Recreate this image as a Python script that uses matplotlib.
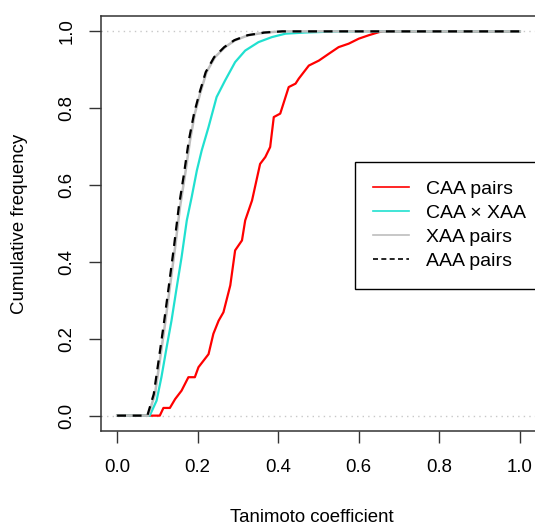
import numpy as np
import matplotlib
matplotlib.use("Agg")
import matplotlib.pyplot as plt
from matplotlib.lines import Line2D

plt.rcParams['font.family'] = ['Liberation Sans', 'DejaVu Sans']

# Curvas de frecuencia acumulada (coeficiente de Tanimoto)
caa_x = [0.0, 0.08, 0.106, 0.115, 0.131, 0.144, 0.160, 0.177, 0.193, 0.202, 0.227, 0.239,
         0.252, 0.264, 0.281, 0.293, 0.310, 0.318, 0.335, 0.355, 0.368, 0.380, 0.389,
         0.405, 0.426, 0.443, 0.451, 0.476, 0.501, 0.526, 0.550, 0.575, 0.600, 0.625,
         0.650, 0.66, 1.0]
caa_y = [0.0, 0.0, 0.0, 0.02, 0.02, 0.043, 0.065, 0.10, 0.10, 0.126, 0.16, 0.213,
         0.247, 0.269, 0.339, 0.43, 0.456, 0.508, 0.56, 0.655, 0.673, 0.699, 0.777,
         0.786, 0.855, 0.864, 0.877, 0.911, 0.924, 0.942, 0.959, 0.968, 0.981, 0.990,
         0.998, 1.0, 1.0]

cxa_x = [0.0, 0.081, 0.098, 0.110, 0.123, 0.135, 0.148, 0.160, 0.173, 0.185, 0.198,
         0.210, 0.227, 0.247, 0.268, 0.293, 0.318, 0.351, 0.384, 0.418, 0.467, 0.55, 1.0]
cxa_y = [0.0, 0.0, 0.039, 0.10, 0.178, 0.247, 0.334, 0.412, 0.508, 0.568, 0.638,
         0.690, 0.751, 0.829, 0.872, 0.920, 0.950, 0.972, 0.985, 0.994, 0.997, 1.0, 1.0]

xaa_x = [0.0, 0.077, 0.094, 0.106, 0.119, 0.131, 0.144, 0.156, 0.169, 0.181, 0.193,
         0.206, 0.222, 0.243, 0.268, 0.293, 0.326, 0.368, 0.41, 1.0]
xaa_y = [0.0, 0.0, 0.056, 0.143, 0.239, 0.334, 0.438, 0.542, 0.629, 0.716, 0.786,
         0.838, 0.894, 0.933, 0.959, 0.977, 0.990, 0.997, 1.0, 1.0]

aaa_x = [0.0, 0.075, 0.091, 0.103, 0.116, 0.128, 0.141, 0.153, 0.166, 0.178, 0.191,
         0.204, 0.220, 0.241, 0.266, 0.291, 0.324, 0.366, 0.41, 1.0]
aaa_y = [0.0, 0.0, 0.056, 0.143, 0.239, 0.334, 0.438, 0.542, 0.629, 0.716, 0.786,
         0.838, 0.894, 0.933, 0.959, 0.977, 0.990, 0.997, 1.0, 1.0]

ticks = [0.0, 0.2, 0.4, 0.6, 0.8, 1.0]
etiquetas = ["CAA pairs", "CAA \u00d7 XAA", "XAA pairs", "AAA pairs"]
colores = ["#ff0000", "#20e0d0", "#bebebe", "#000000"]

fs = 13.4
fig = plt.figure(figsize=(5.35, 5.26), dpi=100)
ax = fig.add_axes([101/535, 95/526, 435/535, 415/526])

# Lineas punteadas de referencia en 0 y 1
ax.axhline(0, color="#c8c8c8", ls=(0, (1, 3)), lw=1, zorder=1)
ax.axhline(1, color="#c8c8c8", ls=(0, (1, 3)), lw=1, zorder=1)

ax.plot(caa_x, caa_y, color=colores[0], lw=1.6, zorder=2)
ax.plot(cxa_x, cxa_y, color=colores[1], lw=1.6, zorder=3)
ax.plot(xaa_x, xaa_y, color=colores[2], lw=1.8, zorder=4)
ax.plot(aaa_x, aaa_y, color=colores[3], lw=1.6, ls=(0, (4, 3)), zorder=5)

ax.set_xlim(-0.04, 1.04)
ax.set_ylim(-0.04, 1.04)
ax.set_xticks(ticks)
ax.set_yticks(ticks)
ax.set_xticklabels([f"{t:.1f}" for t in ticks], fontsize=fs)
ax.set_yticklabels([f"{t:.1f}" for t in ticks], fontsize=fs, rotation=90, va="center")
ax.tick_params(axis="both", length=8.5, width=1, color="#333333")
ax.tick_params(axis="x", pad=12)
ax.tick_params(axis="y", pad=10)
for s in ax.spines.values():
    s.set_color("#333333")
    s.set_linewidth(1.1)

fig.text(20/535, 1 - 224/526, "Cumulative frequency", rotation=90,
         ha="center", va="center", fontsize=fs)
fig.text(312/535, 0.5/526, "Tanimoto coefficient", ha="center", va="bottom", fontsize=fs)

# Leyenda
manejadores = [Line2D([], [], color=colores[0], lw=1.2),
               Line2D([], [], color=colores[1], lw=1.2),
               Line2D([], [], color=colores[2], lw=1.2),
               Line2D([], [], color=colores[3], lw=1.2, ls=(0, (3, 2)))]
leg = ax.legend(manejadores, etiquetas, loc="upper left",
                bbox_to_anchor=(355/535, 1 - 162/526), bbox_transform=fig.transFigure,
                fontsize=14, frameon=True, fancybox=False, framealpha=1,
                edgecolor="black", handlelength=1.85, handletextpad=0.85,
                labelspacing=0.33, borderpad=0.95, borderaxespad=0)
leg.get_frame().set_linewidth(1)

fig.savefig("out.png", dpi=100)
